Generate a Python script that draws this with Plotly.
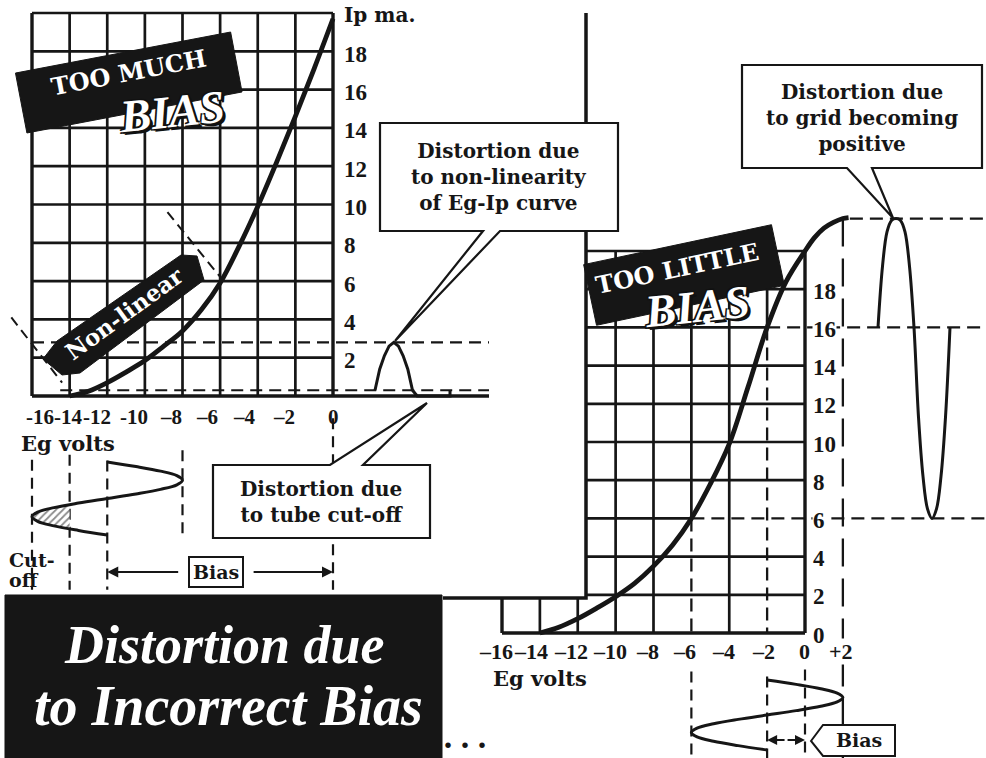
import numpy as np
import plotly.graph_objects as go

W, H = 986, 758

# ------------------------------------------------------------------ data
# Eg-Ip characteristic, "too much bias" chart (left)
eg_left = [-14, -13, -12, -11, -10, -9, -8, -7, -6, -5, -4, -3, -2, -1, 0]
ip_left = [0.0, 0.25, 0.7, 1.25, 1.85, 2.6, 3.4, 4.5, 5.9, 7.8, 9.9, 12.2, 14.6, 17.1, 19.7]

# Eg-Ip characteristic, "too little bias" chart (right)
eg_right = [-14, -13, -12, -11, -10, -9, -8, -7, -6, -5, -4, -3, -2, -1, 0, 0.5, 1.0, 1.5, 2.0, 2.3]
ip_right = [0.0, 0.3, 0.75, 1.3, 1.9, 2.6, 3.5, 4.6, 6.0, 7.8, 9.9, 12.9, 16.0, 18.4, 20.0, 20.7, 21.2, 21.5, 21.7, 21.75]

grid_eg = [-16, -14, -12, -10, -8, -6, -4, -2, 0]
grid_ip = [0, 2, 4, 6, 8, 10, 12, 14, 16, 18, 20]

left_ip_ticks = [2, 4, 6, 8, 10, 12, 14, 16, 18]
right_ip_ticks = [0, 2, 4, 6, 8, 10, 12, 14, 16, 18]
left_eg_ticks = [-16, -14, -12, -10, -8, -6, -4, -2, 0]
left_eg_labels = ["-16", "-14", "-12", "-10", "–8", "–6", "–4", "–2", "0"]
right_eg_ticks = [-16, -14, -12, -10, -8, -6, -4, -2, 0, 2]
right_eg_labels = ["–16", "–14", "–12", "–10", "–8", "–6", "–4", "–2", "0", "+2"]

# one cycle of signal, sampled every 1/16 period
phase = [0.0, 0.0625, 0.125, 0.1875, 0.25, 0.3125, 0.375, 0.4375, 0.5,
         0.5625, 0.625, 0.6875, 0.75, 0.8125, 0.875, 0.9375, 1.0]
grid_signal_left = [-12.0, -10.47, -9.17, -8.3, -8.0, -8.3, -9.17, -10.47, -12.0,
                    -13.53, -14.83, -15.7, -16.0, -15.7, -14.83, -13.53, -12.0]
plate_current_left = [0.3, 1.4, 2.1, 2.6, 2.8, 2.6, 2.1, 1.4, 0.3,
                      0.0, 0.0, 0.0, 0.0, 0.0, 0.0, 0.0, 0.0]
grid_signal_right = [-2.0, -0.47, 0.83, 1.7, 2.0, 1.7, 0.83, -0.47, -2.0,
                     -3.53, -4.83, -5.7, -6.0, -5.7, -4.83, -3.53, -2.0]
plate_current_right = [16.0, 19.2, 21.0, 21.6, 21.7, 21.6, 21.0, 19.2, 16.0,
                       11.3, 8.2, 6.5, 6.0, 6.5, 8.2, 11.3, 16.0]

cutoff_eg = -14
bias_left = -12
bias_right = -2
idle_ip_left = 0.3
peak_ip_left = 2.8
idle_ip_right = 16
peak_ip_right = 21.7
trough_ip_right = 6
nonlinear_eg = [[-17.1, -14.4], [-8.8, -5.9]]
nonlinear_ip = [[4.1, 0.7], [9.6, 6.1]]

# ------------------------------------------------------------------ layout helpers
INK = "#161616"
SERIF = "DejaVu Serif"
NUM = "Liberation Serif"


def xrange_px(p0, v0, p1, v1):
    s = (v1 - v0) / (p1 - p0)
    return [v0 - p0 * s, v0 + (W - p0) * s]


def yrange_px(p0, v0, p1, v1):
    s = (v1 - v0) / (p1 - p0)
    return [v0 + (H - p0) * s, v0 + (0 - p0) * s]


def P(px, py):
    return px / W, 1 - py / H


def path(pts, close=True):
    s = "M " + " L ".join(f"{x / W:.5f},{1 - y / H:.5f}" for x, y in pts)
    return s + (" Z" if close else "")


def rot_rect(cx, cy, w, h, ang):
    a = np.radians(ang)
    u = (np.cos(a), -np.sin(a))
    v = (np.sin(a), np.cos(a))
    pts = []
    for su, sv in [(-1, -1), (1, -1), (1, 1), (-1, 1)]:
        pts.append((cx + su * u[0] * w / 2 + sv * v[0] * h / 2,
                    cy + su * u[1] * w / 2 + sv * v[1] * h / 2))
    return path(pts)


# axis ranges (pixel anchors of the original drawing)
rx1 = xrange_px(32, -16, 333, 0)
ry1 = yrange_px(396, 0, 13, 20)
rx2 = xrange_px(502, -16, 805, 0)
ry2 = yrange_px(633, 0, 251, 20)
rx3 = xrange_px(375, 0, 450, 1)      # left output, time
ry3 = yrange_px(462, 0, 535, 1)      # left input, time
rx4 = xrange_px(878, 0, 950, 1)      # right output, time
ry4 = yrange_px(680, 0, 750, 1)      # right input, time

# the left card hides the right chart for px < 586 and py < 598
card_x = -16 + (586 - 502) * 16 / (805 - 502)
card_y = (633 - 598) * 20 / (633 - 251)
x2_right_edge = rx2[1]
left_card_edge = -16 + (489 - 32) * 16 / (333 - 32)

traces = []


def segs_trace(segs, xa, ya, width, dash=None):
    xs, ys = [], []
    for x0, y0, x1, y1 in segs:
        xs += [x0, x1, None]
        ys += [y0, y1, None]
    return go.Scatter(x=xs, y=ys, mode="lines", xaxis=xa, yaxis=ya,
                      line=dict(color=INK, width=width, dash=dash),
                      hoverinfo="skip", showlegend=False)


# ---------------- right chart (drawn first, sits underneath)
segs = []
for g in grid_eg:
    if g in (-16, 0):
        continue
    if g < card_x:
        segs.append((g, 0, g, card_y))
    elif g == bias_right:
        segs.append((g, idle_ip_right, g, 20))
    elif g == bias_right - 4:
        segs.append((g, trough_ip_right, g, 20))
    else:
        segs.append((g, 0, g, 20))
for v in grid_ip:
    if v == 0:
        continue
    if v == idle_ip_right:
        segs.append((card_x, v, bias_right, v))
    elif v == trough_ip_right:
        segs.append((card_x, v, bias_right - 4, v))
    else:
        segs.append((card_x, v, 0, v))
traces.append(segs_trace(segs, "x2", "y2", 2.7))
traces.append(segs_trace([(-16, 0, 0, 0), (-16, 0, -16, card_y), (0, 0, 0, 20)],
                         "x2", "y2", 3.4))
# projection (dashed) lines
traces.append(segs_trace([(bias_right, idle_ip_right, bias_right, 0),
                          (bias_right - 4, trough_ip_right, bias_right - 4, 0),
                          (bias_right, idle_ip_right, x2_right_edge, idle_ip_right),
                          (bias_right - 4, trough_ip_right, x2_right_edge, trough_ip_right),
                          (2.37, peak_ip_right, x2_right_edge, peak_ip_right)],
                         "x2", "y2", 2.3, "13px,7px"))
traces.append(segs_trace([(2, peak_ip_right, 2, ry2[0])], "x2", "y2", 2.3, "28px,12px"))
traces.append(segs_trace([(bias_right - 4, -0.12, bias_right - 4, 1.2),
                          (bias_right, -0.05, bias_right, 1.2),
                          (0, -0.15, 0, 1.2)], "x2", "y4", 2.2, "11px,7px"))
traces.append(go.Scatter(x=eg_right, y=ip_right, mode="lines", xaxis="x2", yaxis="y2",
                         line=dict(color=INK, width=4.8, shape="spline"),
                         hoverinfo="skip", showlegend=False))
traces.append(go.Scatter(x=grid_signal_right, y=phase, mode="lines", xaxis="x2", yaxis="y4",
                         line=dict(color=INK, width=3, shape="spline"),
                         hoverinfo="skip", showlegend=False))
traces.append(go.Scatter(x=phase, y=plate_current_right, mode="lines", xaxis="x4", yaxis="y2",
                         line=dict(color=INK, width=3, shape="spline"),
                         hoverinfo="skip", showlegend=False))

# ---------------- left chart
segs = [(g, 0, g, 20) for g in grid_eg if g not in (-16, 0)]
segs += [(-16, v, 0, v) for v in grid_ip if v not in (0,)]
traces.append(segs_trace(segs, "x", "y", 2.7))
traces.append(segs_trace([(-16, 0, left_card_edge, 0), (-16, 0, -16, 20), (0, 0, 0, 20)],
                         "x", "y", 3.4))
traces.append(segs_trace([(-16, peak_ip_left, left_card_edge, peak_ip_left),
                          (-14.5, idle_ip_left, left_card_edge, idle_ip_left)],
                         "x", "y", 2.2, "12px,7px"))
traces.append(segs_trace([(e[0], i[0], e[1], i[1]) for e, i in zip(nonlinear_eg, nonlinear_ip)],
                         "x", "y", 2.0, "10px,6px"))
traces.append(segs_trace([(-16, -0.03, -16, 1.75), (cutoff_eg, -0.1, cutoff_eg, 1.75),
                          (bias_left, -0.02, bias_left, 1.75), (bias_left + 4, -0.16, bias_left + 4, 1.07),
                          (0, -0.6, 0, 1.75)], "x", "y3", 2.2, "11px,7px"))
traces.append(go.Scatter(x=eg_left, y=ip_left, mode="lines", xaxis="x", yaxis="y",
                         line=dict(color=INK, width=4.8, shape="spline"),
                         hoverinfo="skip", showlegend=False))
# hatched cut-off portion of the grid signal
t_in = float(np.interp(cutoff_eg, [grid_signal_left[10], grid_signal_left[9]], [phase[10], phase[9]]))
t_out = float(np.interp(cutoff_eg, [grid_signal_left[14], grid_signal_left[15]], [phase[14], phase[15]]))
hx = [cutoff_eg] + grid_signal_left[10:15] + [cutoff_eg]
hy = [t_in] + phase[10:15] + [t_out]
traces.append(go.Scatter(x=hx, y=hy, mode="lines", fill="toself", xaxis="x", yaxis="y3",
                         line=dict(width=0, color="rgba(0,0,0,0)"),
                         fillcolor="white",
                         fillpattern=dict(shape="/", size=5, solidity=0.35, fgcolor=INK, bgcolor="white"),
                         hoverinfo="skip", showlegend=False))
traces.append(go.Scatter(x=grid_signal_left, y=phase, mode="lines", xaxis="x", yaxis="y3",
                         line=dict(color=INK, width=3, shape="spline"),
                         hoverinfo="skip", showlegend=False))
traces.append(go.Scatter(x=phase + [1.0], y=plate_current_left + [idle_ip_left], mode="lines",
                         xaxis="x3", yaxis="y", line=dict(color=INK, width=3),
                         hoverinfo="skip", showlegend=False))

fig = go.Figure(traces)

# ------------------------------------------------------------------ shapes
shapes = []


def sh(p, fill=INK, lc=INK, lw=1):
    shapes.append(dict(type="path", path=p, xref="paper", yref="paper", fillcolor=fill,
                       line=dict(color=lc, width=lw), layer="above"))


# left card border over the right chart
shapes.append(dict(type="path", path=path([(586, 13), (586, 598), (443, 598)], close=False),
                   xref="paper", yref="paper", line=dict(color=INK, width=3.5), layer="above"))
# banners
sh(rot_rect(128.75, 82.5, 219, 61, 10.8))
sh(rot_rect(684, 275, 192, 62, 12))
sh(path([(43, 359), (57, 341), (181, 255), (197, 256), (204, 280), (80, 373), (62, 375)]))
sh(path([(5, 595), (442, 595), (442, 760), (5, 760)]))
# callouts
sh(path([(380, 123), (618, 123), (618, 231), (500, 231), (395, 341), (483, 231), (380, 231)]),
   fill="white", lw=2.2)
sh(path([(742, 65), (982, 65), (982, 168), (872, 168), (893, 218), (847, 168), (742, 168)]),
   fill="white", lw=2.2)
sh(path([(213, 465), (330, 465), (427, 403), (363, 465), (430, 465), (430, 538), (213, 538)]),
   fill="white", lw=2.2)
sh(path([(811, 741), (823, 725), (895, 725), (895, 756), (823, 756)]), fill="white", lw=2)

# ------------------------------------------------------------------ annotations
anns = []


def font(size, family=SERIF, color=INK, weight="bold", style="normal", shadow=None):
    f = dict(family=family, size=size, color=color, weight=weight, style=style)
    if shadow:
        f["shadow"] = shadow
    return f


def txt(text, px, py, f, angle=0, xanchor="center", yanchor="middle", **kw):
    x, y = P(px, py)
    d = dict(text=text, x=x, y=y, xref="paper", yref="paper", showarrow=False, font=f,
             textangle=angle, xanchor=xanchor, yanchor=yanchor)
    d.update(kw)
    anns.append(d)


OUTLINE = ("-1.5px -1.5px 0 #111, 1.5px -1.5px 0 #111, -1.5px 1.5px 0 #111, "
           "1.5px 1.5px 0 #111, 3px 3px 0 #111")

# left chart ticks
for v in left_ip_ticks:
    anns.append(dict(text=str(v), x=0, y=v, xref="x", yref="y", xanchor="left", yanchor="middle",
                     xshift=9, yshift=-3, showarrow=False, font=font(23, NUM)))
anns.append(dict(text="Ip ma.", x=0, y=20, xref="x", yref="y", xanchor="left", yanchor="middle",
                 xshift=9, yshift=-2, showarrow=False, font=font(20)))
left_label_shift = [8, -2, -10, -11, -12, -13, -13, -11, 0]
for v, t, s in zip(left_eg_ticks, left_eg_labels, left_label_shift):
    anns.append(dict(text=t, x=v, y=0, xref="x", yref="y", xanchor="center", yanchor="middle",
                     xshift=s, yshift=-21, showarrow=False, font=font(21, NUM)))
txt("Eg volts", 68, 443, font(21))
txt("Cut-", 7, 560, font(19), xanchor="left")
txt("off", 7, 580, font(19), xanchor="left")
txt("Bias", 216, 572, font(19), bgcolor="white", bordercolor=INK, borderwidth=2, borderpad=3)

# bias arrows (left)
t_arrow_left = (572 - 462) / 73
for tip, tail in [(bias_left, -8.15), (0, -4.3)]:
    anns.append(dict(x=tip, y=t_arrow_left, ax=tail, ay=t_arrow_left, xref="x", yref="y3",
                     axref="x", ayref="y3", text="", showarrow=True, arrowhead=2,
                     arrowsize=1.1, arrowwidth=2, arrowcolor=INK))
# right bias arrows
t_arrow_right = (740 - 680) / 70
for tip in [bias_right, 0]:
    anns.append(dict(x=tip, y=t_arrow_right, ax=-1, ay=t_arrow_right, xref="x2", yref="y4",
                     axref="x2", ayref="y4", text="", showarrow=True, arrowhead=2,
                     arrowsize=1.0, arrowwidth=2, arrowcolor=INK))

# right chart ticks
for v in right_ip_ticks:
    anns.append(dict(text=str(v), x=0, y=v, xref="x2", yref="y2", xanchor="left", yanchor="middle",
                     xshift=7, yshift=-2, showarrow=False, font=font(23, NUM), bgcolor="white",
                     borderpad=0))
right_label_shift = [-6, -9, -7, -6, -6, -7, -6, -4, -1, -2]
for v, t, s in zip(right_eg_ticks, right_eg_labels, right_label_shift):
    anns.append(dict(text=t, x=v, y=0, xref="x2", yref="y2", xanchor="center", yanchor="middle",
                     xshift=s, yshift=-18, showarrow=False, font=font(22, NUM), bgcolor="white",
                     borderpad=0))
txt("Eg volts", 540, 678, font(21))
txt("Bias", 859, 740, font(19))

# callout texts
txt("Distortion due<br>to non-linearity<br>of Eg-Ip curve", 499, 177, font(20))
txt("Distortion due<br>to grid becoming<br>positive", 862, 118, font(20))
txt("Distortion due<br>to tube cut-off", 321, 502, font(20))

# banner texts
txt("TOO MUCH", 128, 72, font(24, color="white"), angle=-10.8)
txt("BIAS", 172, 111, font(46, NUM, color="white", style="italic", shadow=OUTLINE), angle=-6)
txt("Non-linear", 124, 314, font(23, color="white"), angle=-36)
txt("TOO LITTLE", 677, 268, font(24, color="white"), angle=-12)
txt("BIAS", 697, 306, font(46, NUM, color="white", style="italic", shadow=OUTLINE), angle=-6)

# title (two lines)
txt("Distortion due", 224, 645, font(54, NUM, color="white", style="italic"))
txt("to Incorrect Bias", 228, 706, font(56, NUM, color="white", style="italic"))
txt(". . .", 466, 736, font(34, NUM, style="italic"))

fig.update_layout(
    width=W, height=H, autosize=False,
    margin=dict(l=0, r=0, t=0, b=0, pad=0),
    paper_bgcolor="white", plot_bgcolor="rgba(0,0,0,0)",
    showlegend=False,
    shapes=shapes, annotations=anns,
    xaxis=dict(range=rx1, domain=[0, 1], visible=False, fixedrange=True),
    yaxis=dict(range=ry1, domain=[0, 1], visible=False, fixedrange=True),
    xaxis2=dict(range=rx2, overlaying="x", visible=False, fixedrange=True),
    yaxis2=dict(range=ry2, overlaying="y", visible=False, fixedrange=True),
    xaxis3=dict(range=rx3, overlaying="x", visible=False, fixedrange=True),
    yaxis3=dict(range=ry3, overlaying="y", visible=False, fixedrange=True),
    xaxis4=dict(range=rx4, overlaying="x", visible=False, fixedrange=True),
    yaxis4=dict(range=ry4, overlaying="y", visible=False, fixedrange=True),
)

fig.write_html("out.html", config={"displayModeBar": False},
               post_script="document.body.style.margin='0';document.body.style.overflow='hidden';")
